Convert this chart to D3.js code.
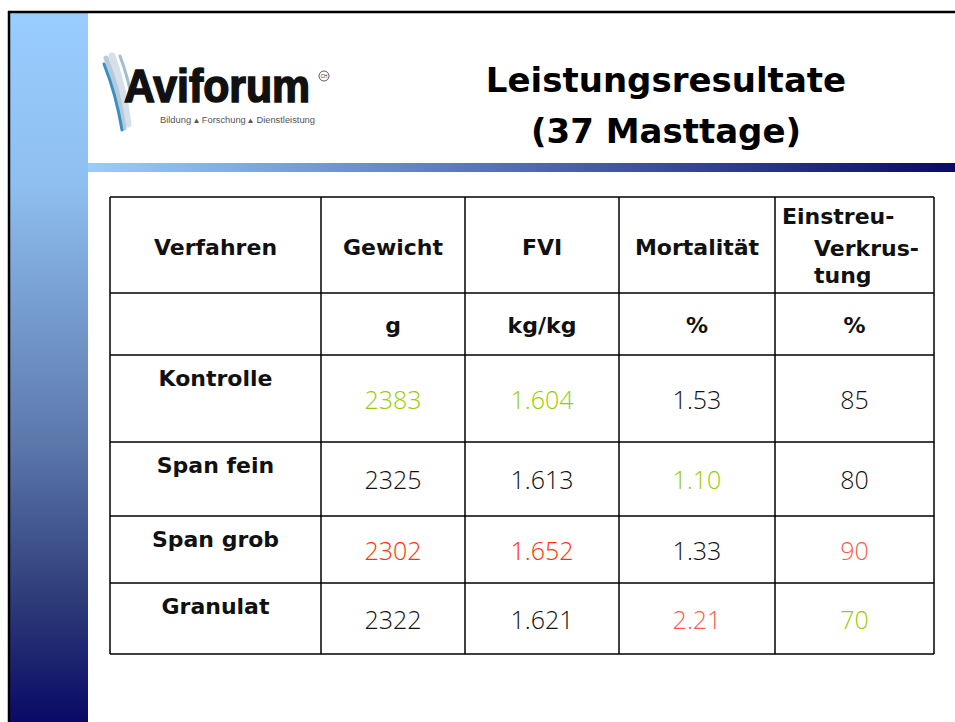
<!DOCTYPE html>
<html>
<head>
<meta charset="utf-8">
<script src="https://cdn.jsdelivr.net/npm/d3@7"></script>
<style>
  body { margin: 0; background: #fff; }
  svg { display: block; }
</style>
</head>
<body>
<div id="chart"></div>
<script>
// table content
const columns = ["Verfahren", "Gewicht", "FVI", "Mortalität", "Einstreu-Verkrustung"];
const units = ["", "g", "kg/kg", "%", "%"];
const verfahren = ["Kontrolle", "Span fein", "Span grob", "Granulat"];
const gewicht = [2383, 2325, 2302, 2322];
const fvi = [1.604, 1.613, 1.652, 1.621];
const mortalitaet = [1.53, 1.10, 1.33, 2.21];
const verkrustung = [85, 80, 90, 70];
// +1 = higher is better, -1 = lower is better
const direction = [1, -1, -1, -1];

const width = 955;
const height = 722;

const HEAD_FONT = "'DejaVu Sans', sans-serif";
const NUM_FONT = "'Open Sans', sans-serif";
const GREEN = "#99cc00";
const REDS = ["#ff3300", "#ff3300", "#ff5a45", "#ff5a45"];

const svg = d3.select("#chart")
    .append("svg")
    .attr("width", width)
    .attr("height", height);

const defs = svg.append("defs");

const side = defs.append("linearGradient")
    .attr("id", "side")
    .attr("gradientUnits", "userSpaceOnUse")
    .attr("x1", 0).attr("y1", 13).attr("x2", 0).attr("y2", height);
[[0, "#99ccff"], [0.24, "#8fbff0"], [0.61, "#5b77aa"], [0.83, "#2d3b78"], [1, "#0a0a66"]]
    .forEach(s => side.append("stop").attr("offset", s[0]).attr("stop-color", s[1]));

const bar = defs.append("linearGradient")
    .attr("id", "bar")
    .attr("x1", 0).attr("y1", 0).attr("x2", 1).attr("y2", 0);
bar.append("stop").attr("offset", 0).attr("stop-color", "#99ccff");
bar.append("stop").attr("offset", 1).attr("stop-color", "#0a0a66");

// slide frame
svg.append("rect")
    .attr("x", 10).attr("y", 13)
    .attr("width", 78).attr("height", height - 13)
    .attr("fill", "url(#side)");

svg.append("rect")
    .attr("x", 88).attr("y", 163)
    .attr("width", width - 88).attr("height", 9)
    .attr("fill", "url(#bar)");

svg.append("line")
    .attr("x1", 8).attr("x2", width)
    .attr("y1", 12).attr("y2", 12)
    .attr("stroke", "#000").attr("stroke-width", 2.5);
svg.append("line")
    .attr("x1", 9).attr("x2", 9)
    .attr("y1", 11).attr("y2", height)
    .attr("stroke", "#000").attr("stroke-width", 2.5);

// logo
const logo = svg.append("g").attr("class", "logo");
const swooshes = [
    ["#d5e0ea", 7, "M112,56 C120,78 125,100 128,124"],
    ["#b5cbdc", 5, "M106,58 C114,78 120,100 124,128"],
    ["#9fbdd3", 3, "M120,56 C126,72 130,88 132,100"],
    ["#3b8fc0", 3, "M104,64 C112,84 118,106 122,130"]
];
swooshes.forEach(s => {
    logo.append("path")
        .attr("d", s[2])
        .attr("fill", "none")
        .attr("stroke", s[0])
        .attr("stroke-width", s[1])
        .attr("stroke-linecap", "round");
});
logo.append("text")
    .attr("transform", "translate(124,102) scale(0.91,1)")
    .style("font-family", "'Liberation Sans', Arial, sans-serif")
    .style("font-weight", "bold")
    .style("font-size", "47px")
    .attr("fill", "#111")
    .attr("stroke", "#111")
    .attr("stroke-width", 1.6)
    .text("Aviforum");
logo.append("circle")
    .attr("cx", 324).attr("cy", 76).attr("r", 5)
    .attr("fill", "none").attr("stroke", "#333").attr("stroke-width", 0.8);
logo.append("text")
    .attr("x", 324).attr("y", 78)
    .attr("text-anchor", "middle")
    .style("font-family", "'Liberation Sans', sans-serif")
    .style("font-size", "4.5px")
    .attr("fill", "#333")
    .text("CH");
logo.append("text")
    .attr("x", 160).attr("y", 123)
    .attr("textLength", 155)
    .attr("lengthAdjust", "spacingAndGlyphs")
    .style("font-family", "'Liberation Sans', sans-serif")
    .style("font-size", "8.5px")
    .attr("fill", "#555")
    .text("Bildung \u25B4 Forschung \u25B4 Dienstleistung");

// title
const title = svg.append("text")
    .attr("text-anchor", "middle")
    .style("font-family", HEAD_FONT)
    .style("font-weight", "bold")
    .style("font-size", "34px")
    .attr("fill", "#000");
title.append("tspan").attr("x", 666).attr("y", 92).text("Leistungsresultate");
title.append("tspan").attr("x", 666).attr("y", 143).text("(37 Masttage)");

// table
const colEdges = [110, 321, 465, 619, 775, 934];
const rowEdges = [197, 293, 355, 442, 516, 583, 654];

const colMid = i => (colEdges[i] + colEdges[i + 1]) / 2;
const rowTop = d3.scaleOrdinal().domain(d3.range(rowEdges.length)).range(rowEdges);

const table = svg.append("g").attr("class", "table");

table.append("rect")
    .attr("x", colEdges[0]).attr("y", rowEdges[0])
    .attr("width", colEdges[colEdges.length - 1] - colEdges[0])
    .attr("height", rowEdges[rowEdges.length - 1] - rowEdges[0])
    .attr("fill", "#fff");

table.selectAll("line.v")
    .data(colEdges)
    .join("line")
    .attr("class", "v")
    .attr("x1", d => d).attr("x2", d => d)
    .attr("y1", rowEdges[0]).attr("y2", rowEdges[rowEdges.length - 1])
    .attr("stroke", "#000").attr("stroke-width", 1.5);

table.selectAll("line.h")
    .data(rowEdges)
    .join("line")
    .attr("class", "h")
    .attr("x1", colEdges[0]).attr("x2", colEdges[colEdges.length - 1])
    .attr("y1", d => d).attr("y2", d => d)
    .attr("stroke", "#000").attr("stroke-width", 1.5);

function boldText(x, y, t, anchor) {
    return table.append("text")
        .attr("x", x).attr("y", y)
        .attr("text-anchor", anchor || "middle")
        .style("font-family", HEAD_FONT)
        .style("font-weight", "bold")
        .style("font-size", "22px")
        .attr("fill", "#111")
        .text(t);
}

// header row
columns.forEach((c, i) => {
    if (i === 4) return;
    boldText(colMid(i), 255, c);
});
boldText(782, 224, "Einstreu-", "start");
boldText(814, 256, "Verkrus-", "start");
boldText(814, 283, "tung", "start");

// units row
units.forEach((u, i) => boldText(colMid(i), 333, u));

// body rows
const series = [gewicht, fvi, mortalitaet, verkrustung];
const formats = [d3.format("d"), d3.format(".3f"), d3.format(".2f"), d3.format("d")];

function cellColor(k, v) {
    const vals = series[k];
    const best = direction[k] > 0 ? d3.max(vals) : d3.min(vals);
    const worst = direction[k] > 0 ? d3.min(vals) : d3.max(vals);
    if (v === best) return GREEN;
    if (v === worst) return REDS[k];
    return "#111";
}

verfahren.forEach((name, r) => {
    const top = rowTop(r + 2);
    const bottom = rowTop(r + 3);
    boldText(colMid(0), top + 31, name);
    series.forEach((vals, k) => {
        table.append("text")
            .attr("x", colMid(k + 1)).attr("y", (top + bottom) / 2 + 10)
            .attr("text-anchor", "middle")
            .style("font-family", NUM_FONT)
            .style("font-weight", 300)
            .style("font-size", "25px")
            .attr("fill", cellColor(k, vals[r]))
            .text(formats[k](vals[r]));
    });
});
</script>
</body>
</html>
